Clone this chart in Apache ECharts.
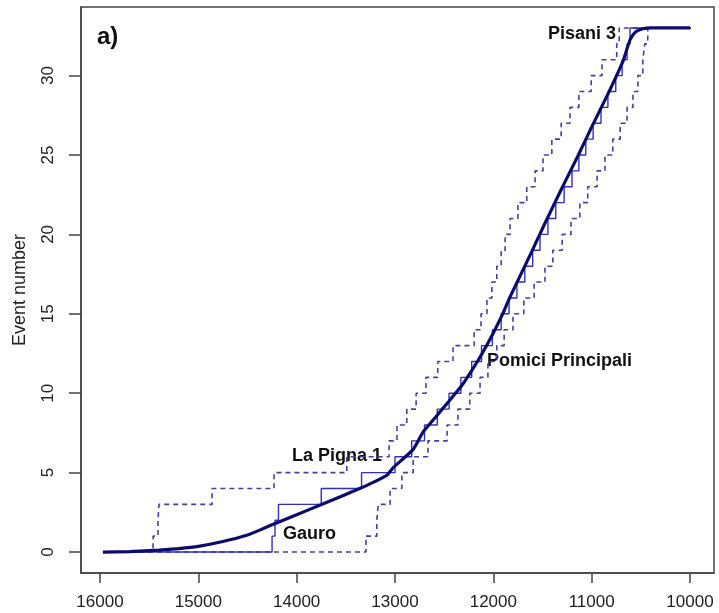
<!DOCTYPE html>
<html>
<head>
<meta charset="utf-8">
<script src="https://cdn.jsdelivr.net/npm/echarts@6/dist/echarts.min.js"></script>
<style>
html,body{margin:0;padding:0;background:#fff;}
#c{width:719px;height:613px;}
</style>
</head>
<body>
<div id="c"></div>
<script>
// ---- data (years BP, event number) ----
const eventNumbers = [1,2,3,4,5,6,7,8,9,10,11,12,13,14,15,16,17,18,19,20,21,22,23,24,25,26,27,28,29,30,31,32,33];
const solidTimes = [14250,14220,14185,13750,13340,13000,12830,12700,12570,12450,12330,12220,12120,12010,11920,11840,11760,11680,11600,11525,11445,11365,11280,11200,11130,11060,10985,10905,10835,10755,10690,10640,10610];
const upperTimes = [15460,15410,15400,14860,14230,13490,13060,12980,12880,12785,12685,12565,12410,12195,12125,12065,12015,11965,11920,11880,11830,11750,11660,11575,11495,11405,11310,11220,11130,11005,10895,10745,10720];
const lowerTimes = [13295,13185,13170,13050,12930,12815,12665,12470,12360,12240,12135,12055,11965,11890,11800,11690,11585,11475,11395,11300,11210,11120,11040,10945,10865,10785,10710,10640,10580,10530,10480,10460,10430];
const startTime = 15970;
const endTime = 9990;
const curveTimes = [15970,15700,15400,15200,15000,14750,14500,14350,14200,14000,13760,13550,13360,13200,13080,13020,12817,12715,12573,12451,12319,12207,12105,12004,11912,11831,11607,11475,11312,11139,10997,10834,10682,10640,10610,10575,10542,10478,10400,10000];
const curveValues = [0,0.03,0.12,0.22,0.36,0.66,1.07,1.45,1.85,2.35,2.96,3.5,4.0,4.45,4.85,5.3,6.45,7.55,8.6,9.5,10.5,11.55,12.6,13.75,14.9,16.05,18.95,20.7,22.8,24.95,26.8,28.85,30.9,31.7,32.25,32.6,32.8,32.95,33,33];
const xTicks = [16000,15000,14000,13000,12000,11000,10000];
const yTicks = [0,5,10,15,20,25,30];
const annotations = ['a)','Pisani 3','Pomici Principali','La Pigna 1','Gauro'];

function staircase(times){
  const pts = [[startTime,0]];
  for(let i=0;i<times.length;i++){
    pts.push([times[i], eventNumbers[i]-1]);
    pts.push([times[i], eventNumbers[i]]);
  }
  pts.push([endTime, eventNumbers[eventNumbers.length-1]]);
  return pts;
}
const curveData = curveTimes.map((t,i)=>[t,curveValues[i]]);

const FONT = '"Liberation Sans", Arial, sans-serif';
const chart = echarts.init(document.getElementById('c'), null, {renderer:'canvas'});
const option = {
  animation:false,
  backgroundColor:'#fff',
  grid:{left:81,right:5,top:7,bottom:40,show:true,borderColor:'#444',borderWidth:1.5,containLabel:false,outerBoundsMode:'none'},
  xAxis:{
    type:'value', inverse:true, min:9756, max:16193,
    axisLine:{show:true,onZero:false,lineStyle:{color:'#444',width:1.5}},
    axisTick:{show:true,customValues:xTicks,length:10,lineStyle:{color:'#444',width:1.5}},
    axisLabel:{customValues:xTicks,margin:21,fontSize:17,color:'#222',fontFamily:FONT,formatter:v=>String(v)},
    splitLine:{show:false}
  },
  yAxis:{
    type:'value', min:-1.32, max:34.32,
    name:'Event number', nameLocation:'middle', nameGap:52, nameRotate:90,
    nameTextStyle:{fontSize:18,color:'#222',fontFamily:FONT},
    axisLine:{show:true,onZero:false,lineStyle:{color:'#444',width:1.5}},
    axisTick:{show:true,customValues:yTicks,length:12,lineStyle:{color:'#444',width:1.5}},
    axisLabel:{customValues:yTicks,rotate:90,margin:24,fontSize:17,color:'#222',fontFamily:FONT},
    splitLine:{show:false}
  },
  series:[
    {type:'line',data:staircase(upperTimes),showSymbol:false,symbol:'none',lineStyle:{color:'#4040a8',width:1.6,type:[5,4]},z:2},
    {type:'line',data:staircase(lowerTimes),showSymbol:false,symbol:'none',lineStyle:{color:'#4040a8',width:1.6,type:[5,4]},z:2},
    {type:'line',data:staircase(solidTimes),showSymbol:false,symbol:'none',lineStyle:{color:'#2f2fc8',width:1.4},z:3},
    {type:'line',data:curveData,showSymbol:false,symbol:'none',smooth:0.15,lineStyle:{color:'#0b0b6e',width:3.2},z:4}
  ],
  graphic:[
    {type:'text',left:97,top:25,style:{text:annotations[0],font:'bold 24px '+FONT,fill:'#111'}},
    {type:'text',x:548,y:34,style:{text:annotations[1],font:'bold 18px '+FONT,fill:'#111',verticalAlign:'middle'}},
    {type:'text',x:487,y:361,style:{text:annotations[2],font:'bold 18px '+FONT,fill:'#111',verticalAlign:'middle'}},
    {type:'text',x:292,y:456,style:{text:annotations[3],font:'bold 18px '+FONT,fill:'#111',verticalAlign:'middle'}},
    {type:'text',x:283,y:534,style:{text:annotations[4],font:'bold 18px '+FONT,fill:'#111',verticalAlign:'middle'}}
  ]
};
chart.setOption(option);
</script>
</body>
</html>
